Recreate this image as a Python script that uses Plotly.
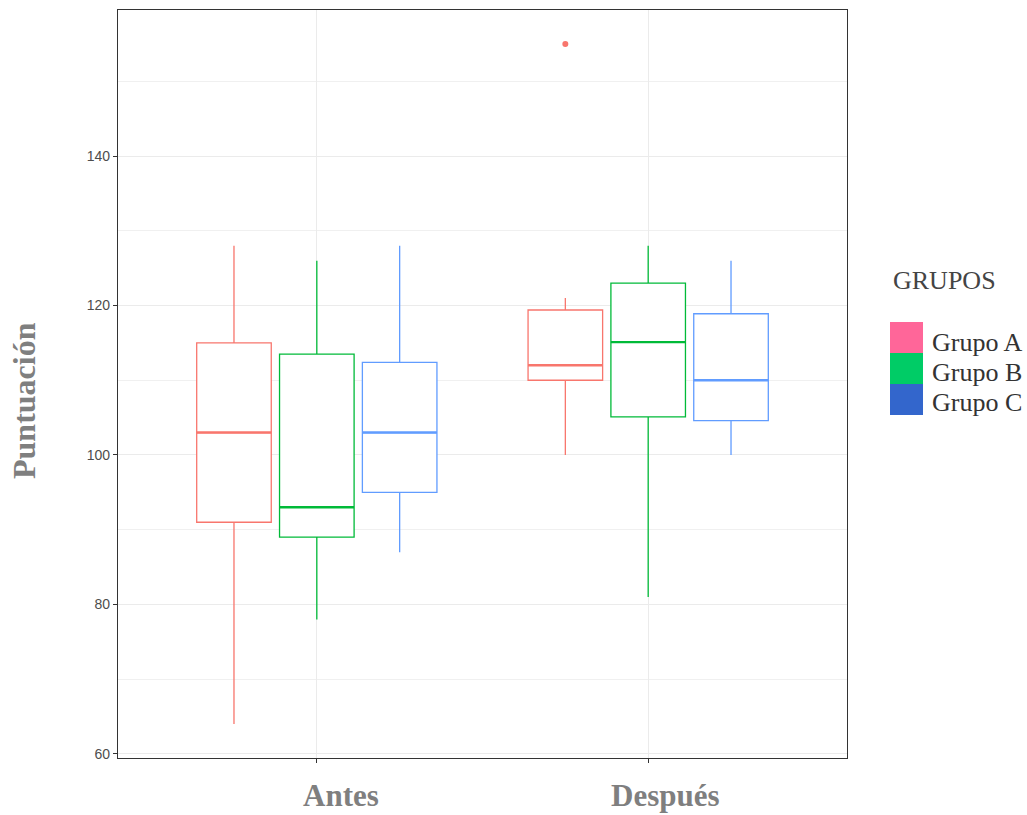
import plotly.graph_objects as go

# Categories
momentos = ["Antes", "Después"]
grupos = ["Grupo A", "Grupo B", "Grupo C"]

# Box statistics per momento (rows) and grupo (columns)
bigote_inf = [[64, 78, 87], [100, 81, 100]]
cuartil_1 = [[91, 89, 95], [110, 105.1, 104.6]]
mediana = [[103, 93, 103], [112, 115.1, 110]]
cuartil_3 = [[115, 113.5, 112.4], [119.4, 123, 118.9]]
bigote_sup = [[128, 126, 128], [121, 128, 126]]

# Outliers: (momento, grupo, value)
atipicos = [("Después", "Grupo A", 155)]

# Y-axis ticks
y_ticks = [60, 80, 100, 120, 140]

colores_linea = ["#F8766D", "#00BA38", "#619CFF"]
colores_leyenda = ["#FF6699", "#00CC66", "#3366CC"]

dodge = 0.25
box_w = 0.225

W, H = 1027, 815
ML, MR, MT, MB = 118, 180, 10, 57
PW, PH = W - ML - MR, H - MT - MB


def px_x(px):
    return (px - ML) / PW


def px_y(py):
    return (H - MB - py) / PH


def pos(momento, grupo):
    i = momentos.index(momento) + 1
    g = grupos.index(grupo)
    return i + (g - 1) * dodge


fig = go.Figure()

for g, grupo in enumerate(grupos):
    for m, momento in enumerate(momentos):
        xc = pos(momento, grupo)
        fig.add_trace(go.Box(
            x=[xc],
            q1=[cuartil_1[m][g]],
            median=[mediana[m][g]],
            q3=[cuartil_3[m][g]],
            lowerfence=[bigote_inf[m][g]],
            upperfence=[bigote_sup[m][g]],
            width=box_w,
            whiskerwidth=0,
            line=dict(color=colores_linea[g], width=1.3),
            fillcolor="white",
            showlegend=False,
            name=grupo,
        ))
        # thicker median segment across the box
        fig.add_trace(go.Scatter(
            x=[xc - box_w / 2, xc + box_w / 2],
            y=[mediana[m][g], mediana[m][g]],
            mode="lines", line=dict(color=colores_linea[g], width=2.4),
            showlegend=False, hoverinfo="skip",
        ))

for momento, grupo, valor in atipicos:
    g = grupos.index(grupo)
    fig.add_trace(go.Scatter(
        x=[pos(momento, grupo)], y=[valor], mode="markers",
        marker=dict(color=colores_linea[g], size=6),
        showlegend=False,
    ))

axis_common = dict(
    showline=True, mirror=True, linecolor="#333333", linewidth=1.2,
    ticks="outside", ticklen=4, tickcolor="#333333", tickwidth=1,
    gridcolor="#EBEBEB", gridwidth=1, zeroline=False, automargin=False,
)

fig.update_xaxes(
    range=[0.4, 2.6], tickmode="array", tickvals=[1, 2], ticktext=momentos,
    showticklabels=False,
    **axis_common,
)
fig.update_yaxes(
    range=[59.45, 159.55], tickmode="array", tickvals=y_ticks,
    tickfont=dict(family="Liberation Sans", size=14, color="#4D4D4D"),
    minor=dict(dtick=10, tick0=0, showgrid=True, gridcolor="#F0F0F0", ticks=""),
    **axis_common,
)

shapes = []
annotations = [
    dict(text="<b>Puntuación</b>", x=px_x(24), y=px_y(401), xref="paper", yref="paper",
         showarrow=False, textangle=-90, xanchor="center", yanchor="middle",
         font=dict(family="Liberation Serif", size=32, color="#7F7F7F")),
    dict(text="GRUPOS", x=px_x(891), y=px_y(280), xref="paper", yref="paper",
         showarrow=False, xanchor="left", yanchor="middle",
         font=dict(family="Liberation Serif", size=26, color="#444444")),
]

# category labels below the panel
etiqueta_centro = [341, 665]
for m, momento in enumerate(momentos):
    annotations.append(dict(
        text=f"<b>{momento}</b>", x=px_x(etiqueta_centro[m]), y=px_y(795),
        xref="paper", yref="paper", showarrow=False,
        xanchor="center", yanchor="middle", borderpad=0,
        font=dict(family="Liberation Serif", size=31, color="#7F7F7F"),
    ))

tops = [322, 353, 384]
alto = 31
for g, grupo in enumerate(grupos):
    shapes.append(dict(
        type="rect", xref="paper", yref="paper",
        x0=px_x(890), x1=px_x(923), y0=px_y(tops[g]), y1=px_y(tops[g] + alto),
        fillcolor=colores_leyenda[g], line=dict(width=0),
    ))
    annotations.append(dict(
        text=grupo, x=px_x(930), y=px_y(342 + 30 * g), xref="paper", yref="paper",
        showarrow=False, xanchor="left", yanchor="middle",
        font=dict(family="Liberation Serif", size=26, color="#333333"),
    ))

fig.update_layout(
    width=W, height=H,
    margin=dict(l=ML, r=MR, t=MT, b=MB),
    paper_bgcolor="white", plot_bgcolor="white",
    shapes=shapes, annotations=annotations,
    showlegend=False,
)

fig.write_html("out.html")
